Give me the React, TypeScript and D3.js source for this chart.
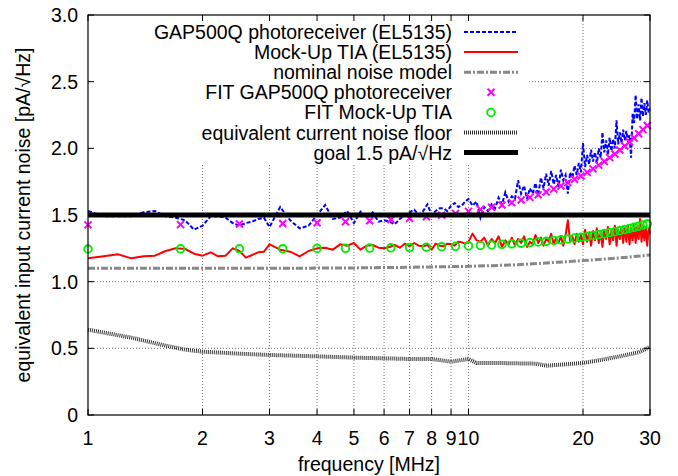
import React from "react";
import * as d3 from "d3";

const W = 678;
const H = 476;
const PLOT = { left: 88, right: 650, top: 15, bottom: 415 };

const X_TICKS = [1, 2, 3, 4, 5, 6, 7, 8, 9, 10, 20, 30];
const X_TICK_LABELS = ["1", "2", "3", "4", "5", "6", "7", "8", "9", "10", "20", "30"];
const Y_TICKS = [0, 0.5, 1, 1.5, 2, 2.5, 3];
const Y_TICK_LABELS = ["0", "0.5", "1.0", "1.5", "2.0", "2.5", "3.0"];
const GRID_X = [2, 3, 4, 5, 6, 7, 8, 9, 10, 20];
const GRID_Y = [0.5, 1, 1.5, 2, 2.5];

// measured sweep frequencies [MHz]
const MEAS_FREQ = [
  ...d3.range(1.0, 3.0001, 0.1),
  ...d3.range(3.2, 10.0001, 0.2),
  ...d3.range(10.25, 30.0001, 0.25),
].map((f) => Math.round(f * 100) / 100);

const GAP500Q = [
  1.53, 1.49, 1.49, 1.49, 1.52, 1.53, 1.49, 1.48, 1.46, 1.39, 1.42, 1.49, 1.49, 1.48, 1.44, 1.42, 1.44, 1.45, 1.47, 1.48, 1.41,
  1.56, 1.46, 1.40, 1.42, 1.50, 1.575, 1.47, 1.48, 1.53, 1.44, 1.525, 1.48, 1.52, 1.45, 1.46, 1.45, 1.43, 1.47, 1.50, 1.52,
  1.54, 1.50, 1.53, 1.58, 1.50, 1.53, 1.55, 1.55, 1.53, 1.57, 1.59, 1.56, 1.57, 1.60, 1.62,
  1.57, 1.60, 1.48, 1.56, 1.53, 1.58, 1.55, 1.63, 1.58, 1.67,
  1.60, 1.64, 1.62, 1.76, 1.66, 1.72, 1.62, 1.70, 1.66, 1.74,
  1.65, 1.78, 1.70, 1.81, 1.72, 1.83, 1.73, 1.80, 1.71, 1.84,
  1.76, 1.80, 1.66, 1.82, 1.78, 1.87, 1.80, 1.89, 1.82, 2.04,
  1.86, 1.95, 1.88, 1.99, 1.90, 1.97, 1.89, 2.00, 1.93, 2.12,
  1.97, 2.06, 1.95, 2.08, 1.98, 2.07, 2.00, 2.21, 2.03, 2.12,
  2.04, 2.14, 2.06, 2.13, 2.05, 2.10, 1.93, 2.26, 2.19, 2.40,
  2.22, 2.33, 2.21, 2.38, 2.24, 2.34, 2.25, 2.36, 2.27, 2.30,
];

const MOCKUP = [
  1.175, 1.19, 1.205, 1.175, 1.19, 1.195, 1.23, 1.25, 1.245, 1.21, 1.195, 1.22, 1.19, 1.195, 1.25, 1.23, 1.18, 1.2, 1.22, 1.225, 1.28,
  1.24, 1.225, 1.19, 1.23, 1.25, 1.255, 1.24, 1.28, 1.27, 1.29, 1.24, 1.27, 1.275, 1.255, 1.25, 1.26, 1.275, 1.255, 1.285, 1.265,
  1.29, 1.27, 1.265, 1.275, 1.24, 1.285, 1.27, 1.265, 1.285, 1.28, 1.27, 1.3, 1.295, 1.285, 1.3,
  1.36, 1.31, 1.30, 1.33, 1.27, 1.32, 1.29, 1.34, 1.26, 1.31,
  1.28, 1.33, 1.27, 1.32, 1.29, 1.34, 1.26, 1.30, 1.28, 1.35,
  1.29, 1.33, 1.27, 1.32, 1.30, 1.36, 1.28, 1.33, 1.29, 1.34,
  1.27, 1.35, 1.46, 1.30, 1.34, 1.28, 1.36, 1.30, 1.35, 1.28,
  1.39, 1.30, 1.37, 1.27, 1.38, 1.31, 1.40, 1.29, 1.37, 1.26,
  1.39, 1.32, 1.41, 1.28, 1.38, 1.31, 1.42, 1.27, 1.39, 1.32,
  1.41, 1.29, 1.40, 1.30, 1.42, 1.28, 1.40, 1.31, 1.43, 1.29,
  1.41, 1.32, 1.47, 1.30, 1.42, 1.31, 1.41, 1.27, 1.40, 1.36,
];

const MODEL_FREQ = [1, 3, 5, 7, 10, 13, 16, 20, 25, 30];
const MODEL_NOISE = [1.1, 1.1, 1.103, 1.108, 1.115, 1.125, 1.14, 1.158, 1.178, 1.2];

const FLOOR_FREQ = [1, 1.3, 1.6, 1.8, 2, 2.5, 3, 4, 5, 6, 7, 8, 9, 10, 10.5, 12, 15, 16, 18, 20, 22, 25, 28, 30];
const FLOOR_NOISE = [0.64, 0.58, 0.52, 0.49, 0.475, 0.46, 0.45, 0.44, 0.43, 0.425, 0.42, 0.42, 0.4, 0.42, 0.39, 0.39, 0.385, 0.37, 0.38, 0.39, 0.41, 0.44, 0.47, 0.51];

const FIT_FREQ = [
  1, 1.75, 2.5, 3.25, 4, 4.75, 5.5, 6.25, 7, 7.75, 8.5, 9.25, 10, 10.75, 11.5, 12.25, 13, 13.75, 14.5, 15.25,
  16, 16.75, 17.5, 18.25, 19, 19.75, 20.5, 21.25, 22, 22.75, 23.5, 24.25, 25, 25.75, 26.5, 27.25, 28, 28.75, 29.5,
];
const FIT_GAP500Q = [
  1.426, 1.428, 1.432, 1.436, 1.442, 1.449, 1.457, 1.466, 1.476, 1.487, 1.499, 1.512, 1.527, 1.542, 1.558, 1.575, 1.593, 1.612, 1.632, 1.652,
  1.673, 1.695, 1.718, 1.743, 1.768, 1.793, 1.82, 1.846, 1.874, 1.901, 1.93, 1.958, 1.988, 2.017, 2.048, 2.078, 2.109, 2.14, 2.171,
];
const FIT_MOCKUP = [
  1.245, 1.246, 1.246, 1.247, 1.249, 1.25, 1.252, 1.254, 1.256, 1.259, 1.262, 1.265, 1.268, 1.272, 1.275, 1.28, 1.284, 1.288, 1.293, 1.298,
  1.303, 1.309, 1.314, 1.32, 1.327, 1.333, 1.339, 1.346, 1.353, 1.36, 1.368, 1.375, 1.383, 1.391, 1.399, 1.408, 1.416, 1.425, 1.434,
];
const GOAL = 1.5;

const LEGEND_LABELS = [
  "GAP500Q photoreceiver (EL5135)",
  "Mock-Up TIA (EL5135)",
  "nominal noise model",
  "FIT GAP500Q photoreceiver",
  "FIT Mock-Up TIA",
  "equivalent current noise floor",
  "goal 1.5 pA/\u221AHz",
];

const FONT = "'Liberation Sans', Arial, Helvetica, sans-serif";
const FS = 19.5;

const STYLES = {
  gap: { stroke: "#0000ff", width: 2, dash: "4,2" },
  mock: { stroke: "#ff0000", width: 2, dash: "" },
  model: { stroke: "#888888", width: 3, dash: "7,2,2,2" },
  floor: { stroke: "#333333", width: 4, dash: "1,1" },
  goal: { stroke: "#000000", width: 5, dash: "" },
};

export default function App() {
  const x = d3.scaleLog().domain([1, 30]).range([PLOT.left, PLOT.right]);
  const y = d3.scaleLinear().domain([0, 3]).range([PLOT.bottom, PLOT.top]);

  const line = (fs: number[], vs: number[]) =>
    d3.line<number>().x((_, i) => x(fs[i])).y((v) => y(v))(vs) || "";

  const tick = 6;
  const legendX = 452;
  const legendY0 = 32;
  const legendStep = 20.1;
  const sx1 = 464;
  const sx2 = 518;
  const sxm = (sx1 + sx2) / 2;

  const cross = (cx: number, cy: number, key: string, color: string) => (
    <path key={key} d={`M${cx - 3.5},${cy - 3.5}L${cx + 3.5},${cy + 3.5}M${cx - 3.5},${cy + 3.5}L${cx + 3.5},${cy - 3.5}`} stroke={color} strokeWidth={2} fill="none" />
  );
  const circ = (cx: number, cy: number, key: string) => (
    <circle key={key} cx={cx} cy={cy} r={3.8} stroke="#00ee00" strokeWidth={1.9} fill="none" />
  );

  const sampleLine = (row: number, s: { stroke: string; width: number; dash: string }) => {
    const yy = legendY0 + row * legendStep;
    return <line x1={sx1} x2={sx2} y1={yy} y2={yy} stroke={s.stroke} strokeWidth={s.width} strokeDasharray={s.dash || undefined} />;
  };

  return (
    <svg width={W} height={H} style={{ position: "absolute", left: 0, top: 0, background: "#fff" }} fontFamily={FONT}>
      <rect x={0} y={0} width={W} height={H} fill="#fff" />
      {/* grid */}
      <g stroke="#777" strokeWidth={1} strokeDasharray="1,2">
        {GRID_X.map((g) => (
          <line key={"gx" + g} x1={x(g)} x2={x(g)} y1={PLOT.top} y2={PLOT.bottom} />
        ))}
        {GRID_Y.map((g) => (
          <line key={"gy" + g} x1={PLOT.left} x2={PLOT.right} y1={y(g)} y2={y(g)} />
        ))}
      </g>
      {/* opaque key box */}
      <rect x={PLOT.left + 1} y={PLOT.top + 1} width={528 - PLOT.left - 1} height={164 - PLOT.top - 1} fill="#fff" />

      {/* data */}
      <path d={line(MEAS_FREQ, GAP500Q)} fill="none" stroke={STYLES.gap.stroke} strokeWidth={STYLES.gap.width} strokeDasharray={STYLES.gap.dash} />
      <path d={line(MEAS_FREQ, MOCKUP)} fill="none" stroke={STYLES.mock.stroke} strokeWidth={STYLES.mock.width} strokeLinejoin="round" />
      <path d={line(MODEL_FREQ, MODEL_NOISE)} fill="none" stroke={STYLES.model.stroke} strokeWidth={STYLES.model.width} strokeDasharray={STYLES.model.dash} />
      {FIT_FREQ.map((f, i) => cross(x(f), y(FIT_GAP500Q[i]), "fg" + i, "#ff00ff"))}
      {FIT_FREQ.map((f, i) => circ(x(f), y(FIT_MOCKUP[i]), "fm" + i))}
      <path d={line(FLOOR_FREQ, FLOOR_NOISE)} fill="none" stroke={STYLES.floor.stroke} strokeWidth={STYLES.floor.width} strokeDasharray={STYLES.floor.dash} />
      <line x1={x(1)} x2={x(30)} y1={y(GOAL)} y2={y(GOAL)} stroke={STYLES.goal.stroke} strokeWidth={STYLES.goal.width} />

      {/* border and ticks */}
      <rect x={PLOT.left} y={PLOT.top} width={PLOT.right - PLOT.left} height={PLOT.bottom - PLOT.top} fill="none" stroke="#000" strokeWidth={1.2} />
      <g stroke="#000" strokeWidth={1}>
        {X_TICKS.map((t) => (
          <g key={"xt" + t}>
            <line x1={x(t)} x2={x(t)} y1={PLOT.bottom} y2={PLOT.bottom - tick} />
            <line x1={x(t)} x2={x(t)} y1={PLOT.top} y2={PLOT.top + tick} />
          </g>
        ))}
        {Y_TICKS.map((t) => (
          <g key={"yt" + t}>
            <line x1={PLOT.left} x2={PLOT.left + tick} y1={y(t)} y2={y(t)} />
            <line x1={PLOT.right} x2={PLOT.right - tick} y1={y(t)} y2={y(t)} />
          </g>
        ))}
      </g>
      <g fontSize={FS} fill="#000">
        {X_TICKS.map((t, i) => (
          <text key={"xl" + t} x={x(t)} y={445} textAnchor="middle">
            {X_TICK_LABELS[i]}
          </text>
        ))}
        {Y_TICKS.map((t, i) => (
          <text key={"yl" + t} x={78} y={y(t) + 7} textAnchor="end">
            {Y_TICK_LABELS[i]}
          </text>
        ))}
        <text x={(PLOT.left + PLOT.right) / 2} y={471} textAnchor="middle">
          frequency [MHz]
        </text>
        <text transform={`translate(30,${(PLOT.top + PLOT.bottom) / 2}) rotate(-90)`} textAnchor="middle">
          equivalent input current noise [pA/{"\u221A"}Hz]
        </text>
      </g>

      {/* legend */}
      <g fontSize={FS} fill="#000">
        {LEGEND_LABELS.map((l, i) => (
          <text key={"lg" + i} x={legendX} y={legendY0 + i * legendStep + 7} textAnchor="end">
            {l}
          </text>
        ))}
      </g>
      {sampleLine(0, STYLES.gap)}
      {sampleLine(1, STYLES.mock)}
      {sampleLine(2, STYLES.model)}
      {cross(sxm, legendY0 + 3 * legendStep, "lgx", "#ff00ff")}
      {circ(sxm, legendY0 + 4 * legendStep, "lgc")}
      {sampleLine(5, STYLES.floor)}
      {sampleLine(6, STYLES.goal)}
    </svg>
  );
}
